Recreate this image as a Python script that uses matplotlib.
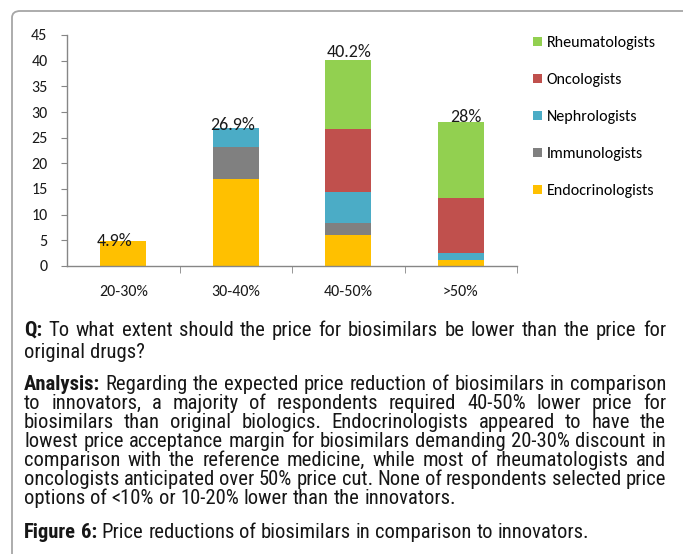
import numpy as np
import matplotlib
matplotlib.use('Agg')
import matplotlib.pyplot as plt
from matplotlib import font_manager
from matplotlib.patches import FancyBboxPatch, Patch

# Data (percent of respondents)
categories = ['20-30%', '30-40%', '40-50%', '>50%']
endocrinologists = [4.9, 16.9, 6.0, 1.1]
immunologists = [0.0, 6.2, 2.3, 0.0]
nephrologists = [0.0, 3.8, 6.2, 1.4]
oncologists = [0.0, 0.0, 12.1, 10.7]
rheumatologists = [0.0, 0.0, 13.6, 14.8]
total_labels = ['4.9%', '26.9%', '40.2%', '28%']

series = [
    ('Endocrinologists', endocrinologists, '#FFC000'),
    ('Immunologists', immunologists, '#808080'),
    ('Nephrologists', nephrologists, '#4BACC6'),
    ('Oncologists', oncologists, '#C0504D'),
    ('Rheumatologists', rheumatologists, '#92D050'),
]

names = {f.name for f in font_manager.fontManager.ttflist}
chart_font = 'Carlito' if 'Carlito' in names else 'DejaVu Sans'
text_font = 'Roboto Condensed' if 'Roboto Condensed' in names else 'Liberation Sans'

W, H = 683, 554
fig = plt.figure(figsize=(W / 100, H / 100), dpi=100)

# rounded chart frame (runs off right and bottom edges)
frame = FancyBboxPatch((12 / W, -0.2), 1.2, 1.2 - 11 / H,
                       boxstyle='round,pad=0,rounding_size=0.012',
                       transform=fig.transFigure, fill=False,
                       edgecolor='#a6a6a6', linewidth=1.3)
fig.patches.append(frame)

ax = fig.add_axes([67 / W, 1 - 266 / H, (517 - 67) / W, (266 - 35) / H])
x = np.arange(len(categories))
bottom = np.zeros(len(categories))
for name, vals, col in series:
    ax.bar(x, vals, width=0.41, bottom=bottom, color=col, label=name, zorder=2)
    bottom += np.array(vals)

totals = bottom
label_dx = [-9, -3, 1, 5]
label_dy = [0, 3, 8, 5]
for i, lab in enumerate(total_labels):
    ax.annotate(lab, (x[i], totals[i]), xytext=(label_dx[i], label_dy[i]),
                textcoords='offset pixels', ha='center', va='center',
                fontsize=13, family=chart_font, color='#1a1a1a', zorder=3)

ax.set_xlim(-0.5, 3.5)
ax.set_ylim(0, 45)
ax.set_yticks(np.arange(0, 46, 5))
ax.set_xticks(x)
ax.set_xticklabels(categories)
ax.set_xticks([0.5, 1.5, 2.5, 3.5], minor=True)
ax.tick_params(axis='x', which='major', length=0, pad=14)
ax.tick_params(axis='x', which='minor', length=5, direction='out', color='#868686')
ax.tick_params(axis='y', length=4, direction='out', color='#868686', pad=10)
for lab in ax.get_xticklabels() + ax.get_yticklabels():
    lab.set_family(chart_font)
    lab.set_fontsize(11.5)
    lab.set_color('#1a1a1a')
for s in ['top', 'right']:
    ax.spines[s].set_visible(False)
for s in ['left', 'bottom']:
    ax.spines[s].set_color('#868686')
    ax.spines[s].set_linewidth(1.0)
ax.set_facecolor('none')

handles = [Patch(facecolor=c, edgecolor='none', label=n) for n, _, c in series[::-1]]
fig.legend(handles=handles, loc='upper left', bbox_to_anchor=(533 / W, 1 - 36 / H),
           frameon=False, borderpad=0, borderaxespad=0, handlelength=0.55,
           handleheight=0.55, handletextpad=0.3, labelspacing=1.44,
           prop={'family': chart_font, 'size': 11.5})

# Caption text, justified like the source page
lines = [
    ([('Q:', True), ('To what extent should the price for biosimilars be lower than the price for', False)], 336, True),
    ([('original drugs?', False)], 358, False),
    ([('Analysis:', True), ('Regarding the expected price reduction of biosimilars in comparison', False)], 390, True),
    ([('to innovators, a majority of respondents required 40-50% lower price for', False)], 409, True),
    ([('biosimilars than original biologics. Endocrinologists appeared to have the', False)], 428, True),
    ([('lowest price acceptance margin for biosimilars demanding 20-30% discount in', False)], 447, True),
    ([('comparison with the reference medicine, while most of rheumatologists and', False)], 466, True),
    ([('oncologists anticipated over 50% price cut. None of respondents selected price', False)], 485, True),
    ([('options of <10% or 10-20% lower than the innovators.', False)], 504, False),
    ([('Figure 6:', True), ('Price reductions of biosimilars in comparison to innovators.', False)], 538, False),
]
left_px, right_px = 24, 666

fig.canvas.draw()
renderer = fig.canvas.get_renderer()


def width_of(s, bold, size):
    t = fig.text(0, 0, s, fontsize=size, family=text_font,
                 fontweight='bold' if bold else 'normal')
    w = t.get_window_extent(renderer).width
    t.remove()
    return w


def words_of(segs):
    out = []
    for txt, bold in segs:
        for w in txt.split(' '):
            out.append((w, bold))
    return out


# size the caption so the figure legend line spans about as in the source
probe = 12.0
sp = width_of('a a', False, probe) - width_of('aa', False, probe)
fw = words_of(lines[-1][0])
natural = sum(width_of(w, b, probe) for w, b in fw) + sp * (len(fw) - 1)
fs = probe * (590 - left_px) / natural

space_w = width_of('a a', False, fs) - width_of('aa', False, fs)

for segs, base_y, justify in lines:
    words = words_of(segs)
    widths = [width_of(w, b, fs) for w, b in words]
    if justify and len(words) > 1:
        gap = (right_px - left_px - sum(widths)) / (len(words) - 1)
    else:
        gap = space_w
    xp = left_px
    for (w, b), wd in zip(words, widths):
        fig.text(xp / W, 1 - base_y / H, w, fontsize=fs, family=text_font,
                 fontweight='bold' if b else 'normal', color='#161616',
                 ha='left', va='baseline')
        xp += wd + gap

fig.savefig('out.png', dpi=100)
